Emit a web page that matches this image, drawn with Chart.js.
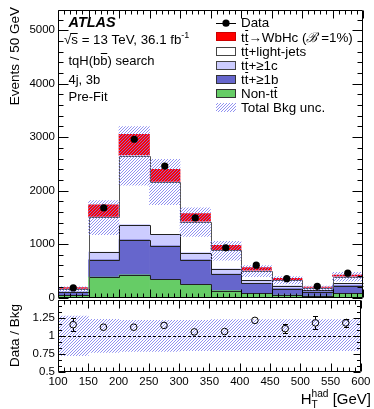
<!DOCTYPE html>
<html><head><meta charset="utf-8">
<script src="https://cdn.jsdelivr.net/npm/chart.js@4.4.1/dist/chart.umd.min.js"></script>
<style>
html,body{margin:0;padding:0;background:#fff;overflow:hidden;}
#wrap{position:relative;width:374px;height:409px;background:#fff;}
#wrap canvas{position:absolute;left:0;top:0;}
</style></head><body>
<div id="wrap">
<canvas id="cTop" width="374" height="409"></canvas>
<canvas id="cRatio" width="374" height="409"></canvas>
</div>
<script>
// ---------------- data ----------------
const binEdges   = [100, 150, 200, 250, 300, 350, 400, 450, 500, 550, 600];
const binCenters = [125, 175, 225, 275, 325, 375, 425, 475, 525, 575];
const nonTT      = [40, 380, 423, 342, 248, 128, 79, 47, 25, 75];
const ttB        = [60, 325, 658, 626, 457, 308, 188, 118, 87, 147];
const ttC        = [12, 145, 282, 216, 137, 100, 56, 57, 28, 40];
const ttLight    = [44, 655, 1292, 976, 575, 347, 178, 100, 38, 126];
const ttWbHc     = [29, 228, 400, 237, 153, 91, 59, 39, 17, 32];
const dataEvents = [180, 1677, 2961, 2459, 1489, 930, 605, 353, 210, 455];
const bkgUncHi   = [200, 1814, 3199, 2585, 1677, 1049, 598, 390, 215, 470];
const bkgUncLo   = [114, 1175, 2102, 1739, 1143, 700, 391, 255, 140, 305];
const ratioData  = [1.15, 1.115, 1.115, 1.14, 1.05, 1.055, 1.21, 1.095, 1.175, 1.175];
const ratioErr   = [0.094, 0.03, 0.02, 0.025, 0.03, 0.035, 0.045, 0.063, 0.089, 0.058];
const ratioUncHi = [1.27, 1.225, 1.21, 1.21, 1.21, 1.22, 1.22, 1.22, 1.22, 1.22];
const ratioUncLo = [0.72, 0.765, 0.78, 0.78, 0.79, 0.79, 0.79, 0.79, 0.79, 0.79];
const yTicksTop   = [0, 1000, 2000, 3000, 4000, 5000];
const yTicksRatio = [0.5, 0.75, 1, 1.25];
const xTicks      = [100, 150, 200, 250, 300, 350, 400, 450, 500, 550, 600];

// ---------------- styling ----------------
const FAMILY = "'Liberation Sans', Arial, Helvetica, sans-serif";
Chart.defaults.font.family = FAMILY;
Chart.defaults.color = '#000';
const C_GREEN = '#66cc66', C_BLUE = '#6666cc', C_LBLUE = '#ccccff', C_WHITE = '#ffffff', C_RED = '#ff0000';
const OUTLINE = '#222';

function makeHatch() {
  const s = 3;
  const c = document.createElement('canvas'); c.width = s; c.height = s;
  const g = c.getContext('2d');
  g.strokeStyle = 'rgb(125,125,238)'; g.lineWidth = 0.85;
  g.beginPath();
  g.moveTo(0, s); g.lineTo(s, 0);
  g.moveTo(-s, s); g.lineTo(s, -s);
  g.moveTo(0, 2 * s); g.lineTo(2 * s, 0);
  g.stroke();
  return g.createPattern(c, 'repeat');
}
const hatch = makeHatch();

const pts = vals => binCenters.map((x, i) => ({x, y: vals[i]}));
const rng = (lo, hi) => binCenters.map((x, i) => ({x, y: [lo[i], hi[i]]}));
const setTicks = arr => s => { s.ticks = arr.map(v => ({value: v})); };

const stackDs = (label, vals, color, outline) => ({
  type: 'bar', label, data: pts(vals), backgroundColor: color, borderWidth: 0,
  stack: 'bkg', xAxisID: 'x', yAxisID: 'y', barPercentage: 1, categoryPercentage: 1, outline
});

// rich text: parts {t, over, sup, sub, noAdv, style, weight}
function drawRich(ctx, x, y, parts, size, align) {
  const fontOf = p => `${p.style || 'normal'} ${p.weight || 'normal'} ${(p.sup || p.sub) ? size * 0.68 : size}px ${FAMILY}`;
  const ws = parts.map(p => { ctx.font = fontOf(p); return ctx.measureText(p.t).width; });
  let total = 0; parts.forEach((p, i) => { if (!p.noAdv) total += ws[i]; });
  let cx = align === 'right' ? x - total : x;
  ctx.textAlign = 'left'; ctx.textBaseline = 'alphabetic'; ctx.fillStyle = '#000';
  parts.forEach((p, i) => {
    ctx.font = fontOf(p);
    const dy = p.sup ? -size * 0.45 : (p.sub ? size * 0.28 : 0);
    ctx.fillText(p.t, cx, y + dy);
    if (p.over) {
      const oy = Math.round(y - size * (p.overH || 0.86)) + 0.5;
      ctx.save(); ctx.strokeStyle = '#000'; ctx.lineWidth = 1;
      ctx.beginPath(); ctx.moveTo(cx + (p.overL || 0.5), oy); ctx.lineTo(cx + ws[i] - 0.3, oy); ctx.stroke(); ctx.restore();
    }
    if (!p.noAdv) cx += ws[i];
  });
}

function frameTicks(chart, o) {
  const {ctx, chartArea: a} = chart;
  const xs = chart.scales.x, ys = chart.scales.y;
  const L = Math.round(a.left) + 0.5, R = Math.round(a.right) - 0.5;
  const T = Math.round(a.top) + 0.5, B = Math.round(a.bottom) - 0.5;
  const steps = (min, max, step) => { const out = []; const n = Math.floor((max - min) / step + 1e-6); for (let k = 0; k <= n; k++) out.push(min + k * step); return out; };
  ctx.save(); ctx.strokeStyle = '#000'; ctx.lineWidth = 1; ctx.beginPath();
  for (const v of steps(xs.min, xs.max, o.xMinor)) {
    const major = Math.abs(v / o.xMajor - Math.round(v / o.xMajor)) < 1e-6;
    const len = major ? o.xMajorLen : o.xMinorLen;
    const px = Math.round(xs.getPixelForValue(v)) + 0.5;
    ctx.moveTo(px, B); ctx.lineTo(px, B - len);
    ctx.moveTo(px, T); ctx.lineTo(px, T + len);
  }
  for (const v of steps(ys.min, ys.max, o.yMinor)) {
    const r = (v - o.yBase) / o.yMajor;
    const major = Math.abs(r - Math.round(r)) < 1e-6;
    const len = major ? o.yMajorLen : o.yMinorLen;
    const py = Math.round(ys.getPixelForValue(v)) + 0.5;
    ctx.moveTo(L, py); ctx.lineTo(L + len, py);
    ctx.moveTo(R, py); ctx.lineTo(R - len, py);
  }
  ctx.rect(L, T, R - L, B - T);
  ctx.stroke(); ctx.restore();
}

const snap = v => Math.round(v) + 0.5;

// ---------------- top panel ----------------
const topPlugin = {
  id: 'topDecor',
  afterDatasetDraw(chart, args) {
    if (args.index !== 0) return;
    const ctx = chart.ctx;
    ctx.save(); ctx.lineWidth = 1;
    chart.data.datasets.forEach((ds, i) => {
      if (!ds.outline) return;
      const meta = chart.getDatasetMeta(i);
      ctx.strokeStyle = ds.outline; ctx.beginPath();
      meta.data.forEach((el, j) => {
        const l = snap(el.x - el.width / 2), r = snap(el.x + el.width / 2), y = snap(el.y);
        if (j === 0) ctx.moveTo(l, y); else ctx.lineTo(l, y);
        ctx.lineTo(r, y);
      });
      ctx.stroke();
    });
    ctx.restore();
  },
  afterDraw(chart) {
    const ctx = chart.ctx;
    frameTicks(chart, {xMinor: 10, xMajor: 50, xMajorLen: 8, xMinorLen: 4,
                       yMinor: 200, yMajor: 1000, yBase: 0, yMajorLen: 10, yMinorLen: 5});
    // y title
    ctx.save();
    ctx.translate(15, 7); ctx.rotate(-Math.PI / 2);
    ctx.font = `13.5px ${FAMILY}`; ctx.textAlign = 'right'; ctx.textBaseline = 'middle'; ctx.fillStyle = '#000';
    ctx.fillText('Events / 50 GeV', 0, 0);
    ctx.restore();
    // ATLAS label block
    ctx.save();
    ctx.fillStyle = '#000'; ctx.textAlign = 'left'; ctx.textBaseline = 'alphabetic';
    ctx.font = `italic bold 14.5px ${FAMILY}`;
    ctx.fillText('ATLAS', 68.5, 27);
    drawRich(ctx, 64, 43.5, [{t: '√'}, {t: 's', over: true, overH: 0.78, overL: -1}, {t: ' = 13 TeV, 36.1 fb'}, {t: '-1', sup: true}], 13.3);
    drawRich(ctx, 68.5, 65, [{t: 'tqH(b'}, {t: 'b', over: true, overH: 0.9}, {t: ') search'}], 13);
    drawRich(ctx, 68.5, 84, [{t: '4j, 3b'}], 13);
    drawRich(ctx, 68.5, 101, [{t: 'Pre-Fit'}], 13);
    // legend
    const lx = 216, lw = 20, tx = 241, y0 = 22.7, dy = 14.15, bh = 9;
    const tt = [{t: 't'}, {t: 't', over: true}];
    const rows = [
      {kind: 'data', parts: [{t: 'Data'}]},
      {kind: 'box', fill: C_RED, stroke: '#cc0000', parts: tt.concat([{t: '→WbHc ('}, {t: 'ℬ', style: 'italic'}, {t: ' =1%)'}])},
      {kind: 'box', fill: C_WHITE, stroke: '#444', parts: tt.concat([{t: '+light-jets'}])},
      {kind: 'box', fill: C_LBLUE, stroke: '#444', parts: tt.concat([{t: '+≥1c'}])},
      {kind: 'box', fill: C_BLUE, stroke: '#333', parts: tt.concat([{t: '+≥1b'}])},
      {kind: 'box', fill: C_GREEN, stroke: '#333', parts: [{t: 'Non-t'}, {t: 't', over: true}]},
      {kind: 'hatch', parts: [{t: 'Total Bkg unc.'}]}
    ];
    rows.forEach((row, k) => {
      const cy = y0 + k * dy;
      if (row.kind === 'data') {
        ctx.strokeStyle = '#000'; ctx.lineWidth = 1;
        ctx.beginPath(); ctx.moveTo(lx, snap(cy)); ctx.lineTo(lx + lw, snap(cy)); ctx.stroke();
        ctx.fillStyle = '#000'; ctx.beginPath(); ctx.arc(lx + lw / 2, cy + 0.5, 3.6, 0, Math.PI * 2); ctx.fill();
      } else if (row.kind === 'box') {
        const top = Math.round(cy - bh / 2);
        ctx.fillStyle = row.fill; ctx.fillRect(lx, top, lw, bh);
        ctx.strokeStyle = row.stroke; ctx.lineWidth = 1; ctx.strokeRect(lx + 0.5, top + 0.5, lw - 1, bh - 1);
      } else {
        const top = Math.round(cy - bh / 2);
        ctx.fillStyle = hatch; ctx.fillRect(lx, top, lw, bh);
      }
      drawRich(ctx, tx, cy + 4.7, row.parts, 13.4);
    });
    ctx.restore();
  }
};

new Chart(document.getElementById('cTop'), {
  type: 'bar',
  data: {datasets: [
    stackDs('Non-tt', nonTT, C_GREEN, OUTLINE),
    stackDs('tt+>=1b', ttB, C_BLUE, OUTLINE),
    stackDs('tt+>=1c', ttC, C_LBLUE, OUTLINE),
    stackDs('tt+light-jets', ttLight, C_WHITE, '#555'),
    stackDs('tt->WbHc', ttWbHc, C_RED, null),
    {type: 'bar', label: 'Total Bkg unc.', data: rng(bkgUncLo, bkgUncHi), backgroundColor: hatch, borderWidth: 0,
     xAxisID: 'x', yAxisID: 'yb', barPercentage: 1, categoryPercentage: 1, grouped: false, order: -1},
    {type: 'scatter', label: 'Data', data: pts(dataEvents), xAxisID: 'x', yAxisID: 'yb', showLine: false,
     pointRadius: 3.6, pointBackgroundColor: '#000', pointBorderColor: '#000', pointBorderWidth: 0, order: -2}
  ]},
  options: {
    responsive: false, animation: false, events: [],
    layout: {padding: {left: 0, right: 11, top: 10, bottom: 111.5}},
    plugins: {legend: {display: false}, tooltip: {enabled: false}},
    scales: {
      x:  {type: 'linear', min: 100, max: 600, offset: false, stacked: true, display: true,
           grid: {display: false, drawTicks: false}, border: {display: false}, ticks: {display: false},
           afterBuildTicks: setTicks(xTicks), afterFit: s => { s.height = 0; }},
      y:  {type: 'linear', position: 'left', min: 0, max: 5380, stacked: true,
           grid: {display: false, drawTicks: false}, border: {display: false},
           ticks: {padding: 3, font: {size: 11.5}, color: '#000', callback: v => String(v)},
           afterBuildTicks: setTicks(yTicksTop), afterFit: s => { s.width = 58; }},
      yb: {type: 'linear', position: 'left', min: 0, max: 5380, display: false}
    }
  },
  plugins: [topPlugin]
});

// ---------------- ratio panel ----------------
const ratioPlugin = {
  id: 'ratioDecor',
  afterDatasetsDraw(chart) {
    const ctx = chart.ctx, xs = chart.scales.x, ys = chart.scales.y, a = chart.chartArea;
    ctx.save();
    ctx.strokeStyle = '#000'; ctx.lineWidth = 1; ctx.setLineDash([3, 2]);
    const y1 = snap(ys.getPixelForValue(1));
    ctx.beginPath(); ctx.moveTo(a.left, y1); ctx.lineTo(a.right, y1); ctx.stroke();
    ctx.setLineDash([]);
    const rad = 3.3;
    binCenters.forEach((x, i) => {
      const px = snap(xs.getPixelForValue(x));
      const py = ys.getPixelForValue(ratioData[i]);
      const pHi = ys.getPixelForValue(ratioData[i] + ratioErr[i]);
      const pLo = ys.getPixelForValue(ratioData[i] - ratioErr[i]);
      if (py - pHi > rad + 0.5) {
        ctx.beginPath();
        ctx.moveTo(px, pHi); ctx.lineTo(px, py - rad);
        ctx.moveTo(px, py + rad); ctx.lineTo(px, pLo);
        ctx.moveTo(px - 2.5, snap(pHi)); ctx.lineTo(px + 2.5, snap(pHi));
        ctx.moveTo(px - 2.5, snap(pLo)); ctx.lineTo(px + 2.5, snap(pLo));
        ctx.stroke();
      }
    });
    ctx.restore();
  },
  afterDraw(chart) {
    const ctx = chart.ctx;
    frameTicks(chart, {xMinor: 10, xMajor: 50, xMajorLen: 8, xMinorLen: 4,
                       yMinor: 0.25 / 3, yMajor: 0.25, yBase: 0.5, yMajorLen: 7, yMinorLen: 3.5});
    ctx.save();
    ctx.translate(15, 335.5); ctx.rotate(-Math.PI / 2);
    ctx.font = `13.5px ${FAMILY}`; ctx.textAlign = 'center'; ctx.textBaseline = 'middle'; ctx.fillStyle = '#000';
    ctx.fillText('Data / Bkg', 0, 0);
    ctx.restore();
    ctx.save();
    drawRich(ctx, 371, 404, [{t: 'H'}, {t: 'T', sub: true, noAdv: true}, {t: 'had', sup: true}, {t: ' [GeV]'}], 15, 'right');
    ctx.restore();
  }
};

new Chart(document.getElementById('cRatio'), {
  type: 'bar',
  data: {datasets: [
    {type: 'scatter', label: 'Data / Bkg', data: pts(ratioData), xAxisID: 'x', yAxisID: 'y', showLine: false,
     pointRadius: 3.3, pointBackgroundColor: 'rgba(0,0,0,0)', pointBorderColor: '#000', pointBorderWidth: 1, order: -1},
    {type: 'bar', label: 'Bkg unc.', data: rng(ratioUncLo, ratioUncHi), backgroundColor: hatch, borderWidth: 0,
     xAxisID: 'x', yAxisID: 'y', barPercentage: 1, categoryPercentage: 1}
  ]},
  options: {
    responsive: false, animation: false, events: [],
    layout: {padding: {left: 0, right: 11, top: 299.5, bottom: 0}},
    plugins: {legend: {display: false}, tooltip: {enabled: false}},
    scales: {
      x: {type: 'linear', min: 100, max: 600, offset: false,
          grid: {display: false, drawTicks: false}, border: {display: false},
          ticks: {padding: 3.5, font: {size: 11.5}, color: '#000', maxRotation: 0, autoSkip: false, callback: v => String(v)},
          afterBuildTicks: setTicks(xTicks), afterFit: s => { s.height = 37.5; }},
      y: {type: 'linear', position: 'left', min: 0.5, max: 1.5,
          grid: {display: false, drawTicks: false}, border: {display: false},
          ticks: {padding: 3, font: {size: 11.5}, color: '#000', callback: v => String(v)},
          afterBuildTicks: setTicks(yTicksRatio), afterFit: s => { s.width = 58; }}
    }
  },
  plugins: [ratioPlugin]
});
</script>
</body></html>
